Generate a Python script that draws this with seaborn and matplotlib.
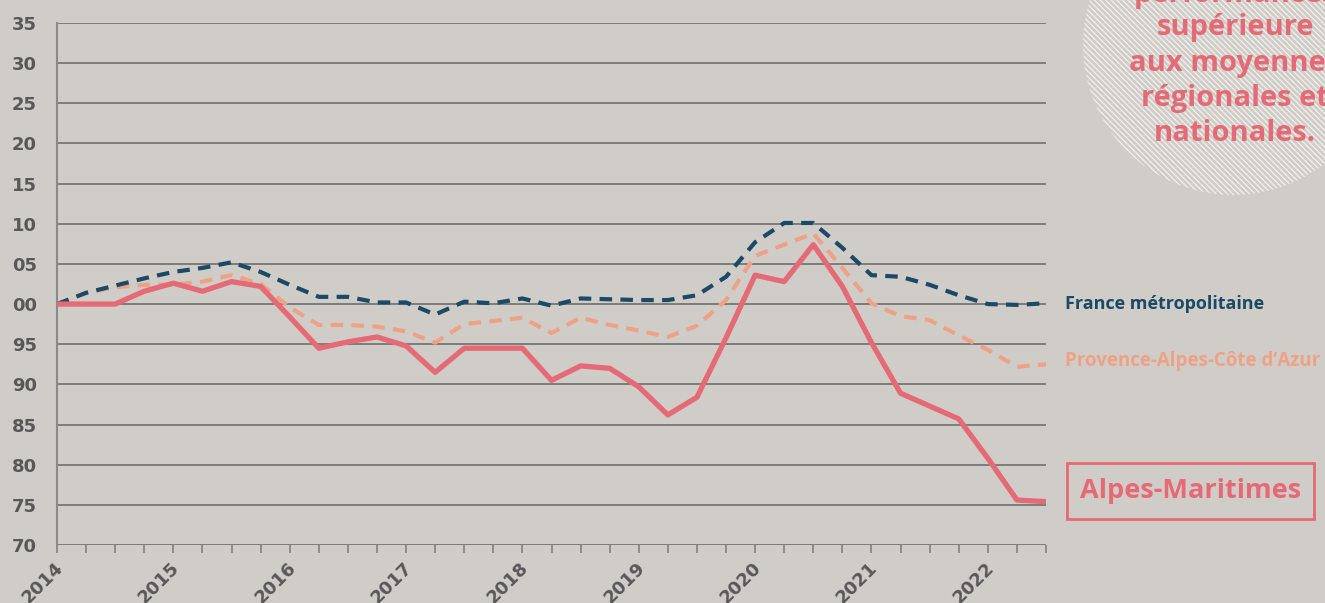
import numpy as np
import pandas as pd
import seaborn as sns
import matplotlib.pyplot as plt
from matplotlib.patches import Circle, Rectangle
from matplotlib.transforms import IdentityTransform, ScaledTranslation

# Indices trimestriels (base 100 = T1 2014)
trimestres = pd.period_range('2014Q1', '2022Q3', freq='Q')
alpes_maritimes = [100, 100, 100, 101.6, 102.6, 101.6, 102.8, 102.2, 98.4, 94.5,
                   95.3, 95.9, 94.8, 91.5, 94.5, 94.5, 94.5, 90.5, 92.3, 92.0,
                   89.7, 86.2, 88.4, 95.8, 103.6, 102.8, 107.4, 102.2, 95.2, 88.9,
                   87.3, 85.7, 80.8, 75.6, 75.4]
paca = [100, 101.4, 102.1, 102.4, 102.4, 102.8, 103.6, 102.5, 99.6, 97.4,
        97.4, 97.2, 96.6, 95.2, 97.5, 97.9, 98.3, 96.4, 98.3, 97.4,
        96.7, 95.9, 97.3, 100.5, 106.0, 107.4, 108.8, 104.5, 100.1, 98.5,
        98.0, 96.1, 94.3, 92.2, 92.5]
france = [100, 101.4, 102.3, 103.2, 104.0, 104.5, 105.2, 104.0, 102.4, 100.9,
          100.9, 100.2, 100.2, 98.7, 100.3, 100.1, 100.7, 99.8, 100.7, 100.6,
          100.5, 100.5, 101.1, 103.4, 107.7, 110.1, 110.1, 107.0, 103.6, 103.4,
          102.4, 101.1, 100.0, 99.9, 100.1]

annees = [2014, 2015, 2016, 2017, 2018, 2019, 2020, 2021, 2022]
y_ticks = [70, 75, 80, 85, 90, 95, 100, 105, 110, 115, 120, 125, 130, 135]
y_labels = ["70", "75", "80", "85", "90", "95", "00", "05", "10", "15", "20", "25", "30", "35"]
texte_bulle = ["performances", "supérieure", "aux moyennes", "régionales et", "nationales."]

BG = '#d0cdc8'
ROUGE = '#e56a75'
BLEU = '#1b4a66'
ORANGE = '#eda287'
GRIS = '#666666'
GRIS_TXT = '#58585a'
FONT = 'Open Sans'
FONT_AXES = 'DejaVu Sans'

x = [p.year + (p.quarter - 1) / 4 for p in trimestres]
df = pd.DataFrame({
    'x': x * 3,
    'indice': paca + france + alpes_maritimes,
    'serie': ['paca'] * len(x) + ['france'] * len(x) + ['am'] * len(x),
})

sns.set_theme(style='white')
plt.rcParams['font.family'] = FONT
plt.rcParams['hatch.linewidth'] = 0.9

fig = plt.figure(figsize=(13.25, 6.03), dpi=100, facecolor=BG)
ax = fig.add_axes([57 / 1325, 1 - 545 / 603, (1046 - 57) / 1325, (545 - 23) / 603])
ax.set_facecolor(BG)

sns.lineplot(data=df, x='x', y='indice', hue='serie', style='serie', size='serie',
             hue_order=['paca', 'france', 'am'],
             palette={'paca': ORANGE, 'france': BLEU, 'am': ROUGE},
             dashes={'paca': (3, 2), 'france': (3, 2), 'am': ''},
             sizes={'paca': 3.0, 'france': 3.0, 'am': 3.8},
             legend=False, ax=ax, zorder=3)

ax.set_xlim(2014, 2022.5)
ax.set_ylim(70, 135)
ax.set_yticks(y_ticks)
ax.set_yticklabels(y_labels, fontsize=13, fontweight='bold', color=GRIS_TXT,
                   family=FONT_AXES)
ax.yaxis.grid(True, color=GRIS, lw=1.1)
ax.set_axisbelow(True)
ax.tick_params(axis='y', length=5, width=1.1, color=GRIS, pad=9.4)

q_labels = [str(int(v)) if v in annees else '' for v in x]
ax.set_xticks(x)
ax.set_xticklabels(q_labels, rotation=45, ha='right', va='top', rotation_mode='anchor',
                   fontsize=13, fontweight='bold', color=GRIS_TXT, family=FONT_AXES)
ax.tick_params(axis='x', length=6, width=1.1, color='#7a7a7a', pad=4, bottom=True)
decal = ScaledTranslation(-3 / 100, 0, fig.dpi_scale_trans)
for lab in ax.get_xticklabels():
    lab.set_transform(lab.get_transform() + decal)
ax.set_xlabel('')
ax.set_ylabel('')

for s in ['top', 'right', 'bottom']:
    ax.spines[s].set_visible(False)
ax.spines['left'].set_color('#8a8a8a')
ax.spines['left'].set_linewidth(1.5)

# libellés des séries
fig.text(1065 / 1325, 1 - 304 / 603, 'France métropolitaine', color=BLEU,
         fontsize=13, fontweight='bold', va='center', ha='left')
fig.text(1065 / 1325, 1 - 361 / 603, "Provence-Alpes-Côte d’Azur", color=ORANGE,
         fontsize=13.5, fontweight='bold', va='center', ha='left')
fig.add_artist(Rectangle((1067, 603 - 519), 247, 56, transform=IdentityTransform(),
                         fill=False, ec=ROUGE, lw=2))
fig.text((1067 + 1314) / 2 / 1325, 1 - 491 / 603, 'Alpes-Maritimes', color=ROUGE,
         fontsize=19.5, fontweight='bold', va='center', ha='center')

# bulle hachurée
fig.add_artist(Circle((1233, 603 - 45), 150, transform=IdentityTransform(),
                      fc=BG, ec='#f2f0ec', lw=0, hatch='\\\\\\\\\\\\', zorder=0))
for txt, base in zip(texte_bulle, [2, 35, 71, 106, 141]):
    fig.text(1235 / 1325, 1 - base / 603, txt, color=ROUGE, fontsize=21,
             fontweight='bold', ha='center', va='baseline')

fig.savefig('out.png', dpi=100, facecolor=BG)
